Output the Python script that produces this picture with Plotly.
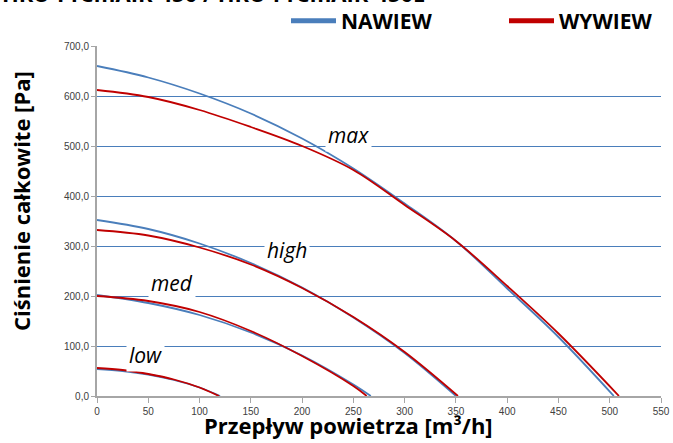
import plotly.graph_objects as go

# ---- data ----
max_naw_x = [0, 50, 100, 150, 200, 250, 300, 350, 400, 450, 504]
max_naw_y = [660, 637, 605, 565, 515, 455, 385, 310, 215, 118, 0]
max_wyw_x = [0, 50, 100, 150, 200, 250, 300, 350, 400, 450, 509]
max_wyw_y = [612, 598, 572, 538, 500, 452, 382, 310, 220, 125, 0]

high_naw_x = [0, 50, 100, 150, 200, 250, 300, 350]
high_naw_y = [352, 334, 305, 266, 217, 157, 86, 0]
high_wyw_x = [0, 50, 100, 150, 200, 250, 300, 352]
high_wyw_y = [332, 321, 297, 263, 216, 158, 88, 0]

med_naw_x = [0, 50, 100, 150, 200, 250, 267]
med_naw_y = [202, 186, 162, 127, 81, 23, 0]
med_wyw_x = [0, 50, 100, 150, 200, 250, 263]
med_wyw_y = [200, 190, 168, 130, 80, 20, 0]

low_naw_x = [0, 25, 50, 75, 100, 120]
low_naw_y = [54, 50, 43, 32, 17, 0]
low_wyw_x = [0, 25, 50, 75, 100, 119]
low_wyw_y = [56, 52, 44, 33, 17, 0]

y_ticks = [0, 100, 200, 300, 400, 500, 600, 700]
y_ticktext = ["0,0", "100,0", "200,0", "300,0", "400,0", "500,0", "600,0", "700,0"]
x_ticks = [0, 50, 100, 150, 200, 250, 300, 350, 400, 450, 500, 550]

labels = ["max", "high", "med", "low"]
label_x = [245, 185, 73, 47]
label_y = [522, 292, 226, 82]

BLUE = "#4A7EBB"
RED = "#C00000"

fig = go.Figure()
pairs = [
    (max_naw_x, max_naw_y, max_wyw_x, max_wyw_y),
    (high_naw_x, high_naw_y, high_wyw_x, high_wyw_y),
    (med_naw_x, med_naw_y, med_wyw_x, med_wyw_y),
    (low_naw_x, low_naw_y, low_wyw_x, low_wyw_y),
]
for nx, ny, wx, wy in pairs:
    fig.add_trace(go.Scatter(x=nx, y=ny, mode="lines", line=dict(color=BLUE, width=1.8, shape="spline", smoothing=1.0),
                             showlegend=False, hoverinfo="skip"))
    fig.add_trace(go.Scatter(x=wx, y=wy, mode="lines", line=dict(color=RED, width=1.8, shape="spline", smoothing=1.0),
                             showlegend=False, hoverinfo="skip"))

# legend entries
fig.add_trace(go.Scatter(x=[None], y=[None], mode="lines", name="NAWIEW", line=dict(color=BLUE, width=5)))
fig.add_trace(go.Scatter(x=[None], y=[None], mode="lines", name="WYWIEW", line=dict(color=RED, width=5)))

for t, x, y in zip(labels, label_x, label_y):
    fig.add_annotation(x=x, y=y, text=t, showarrow=False, bgcolor="white", borderpad=2,
                       font=dict(family="Open Sans", size=21, style="italic", color="black"))

TITLE_FONT = dict(family="Open Sans", size=22, weight="bold", color="black")
fig.add_annotation(xref="paper", yref="paper", x=(348 - 97) / 564, y=(396 - 425) / 350,
                   text="Przepływ powietrza [m³/h]", showarrow=False, xanchor="center", yanchor="middle",
                   font=TITLE_FONT)
fig.add_annotation(xref="paper", yref="paper", x=(21 - 97) / 564, y=(396 - 201) / 350,
                   text="Ciśnienie całkowite [Pa]", showarrow=False, textangle=-90,
                   xanchor="center", yanchor="middle", font=TITLE_FONT)
fig.add_annotation(xref="paper", yref="paper", x=-97 / 564, y=(396 + 7) / 350,
                   text="HRU-PremAIR-450 / HRU-PremAIR-450E", showarrow=False, xanchor="left", yanchor="middle",
                   font=TITLE_FONT)

fig.update_layout(
    width=673, height=443,
    margin=dict(l=97, r=12, t=46, b=47, autoexpand=False),
    paper_bgcolor="white", plot_bgcolor="white",
    showlegend=True,
    legend=dict(orientation="h", x=(286 - 97) / 564, y=(396 - 21) / 350, xanchor="left", yanchor="middle",
                entrywidth=158, entrywidthmode="pixels",
                font=dict(family="Open Sans", size=21, weight="bold", color="black"),
                bgcolor="rgba(0,0,0,0)", itemwidth=45, tracegroupgap=0),
    xaxis=dict(range=[0, 550], tickvals=x_ticks, showgrid=False, zeroline=False,
               showline=True, linecolor="#A6A6A6", linewidth=2,
               ticks="outside", ticklen=5, tickcolor="#A6A6A6", tickwidth=1,
               tickfont=dict(family="Liberation Sans", size=10, color="#404040")),
    yaxis=dict(range=[0, 700], tickvals=y_ticks, ticktext=y_ticktext, showgrid=True,
               gridcolor=BLUE, gridwidth=1, zeroline=False,
               showline=True, linecolor="#A6A6A6", linewidth=2,
               ticks="outside", ticklen=4, tickcolor="#A6A6A6", tickwidth=1,
               tickfont=dict(family="Liberation Sans", size=10, color="#404040")),
)

fig.write_html("out.html", config={"displayModeBar": False},
               post_script="document.body.style.margin='0';document.body.style.overflow='hidden';")
